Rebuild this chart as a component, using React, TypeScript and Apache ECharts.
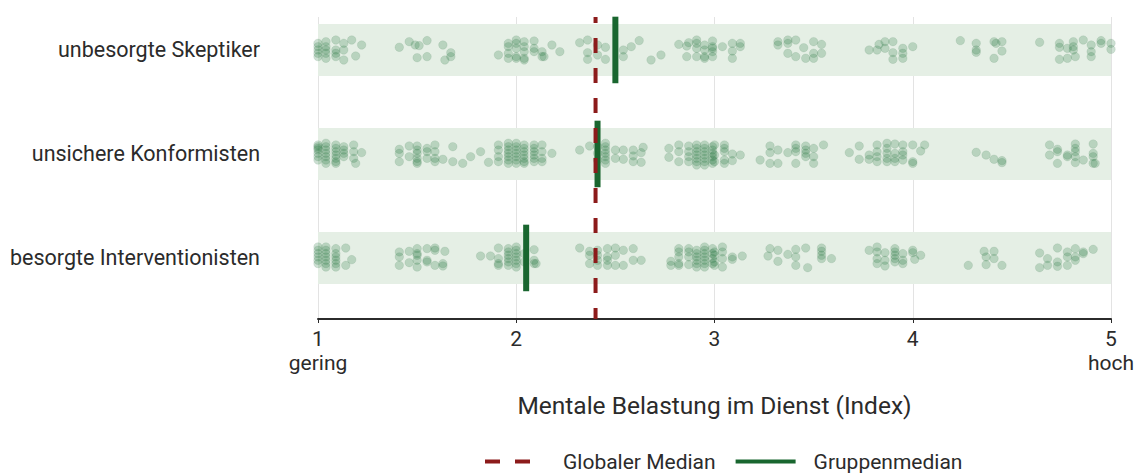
import React, { useEffect, useRef } from "react";
import * as echarts from "echarts";

const categories = ["unbesorgte Skeptiker", "unsichere Konformisten", "besorgte Interventionisten"];
const xTickExtra: Record<number, string> = { 1: "gering", 5: "hoch" };
const globalMedian = 2.4;
const groupMedians = [2.5, 2.41, 2.05];

// [value, vertical jitter] per respondent
const skeptiker: number[][] = [
  [1.0,-0.064],[1.0,-0.032],[1.0,0],[1.0,0.032],[1.0,0.064],
  [1.04,-0.08],[1.04,-0.032],[1.04,0],[1.04,0.032],[1.04,0.08],
  [1.09,-0.096],[1.09,0],[1.09,0.032],[1.09,0.064],
  [1.13,-0.064],[1.13,0],[1.13,0.096],[1.17,-0.096],[1.19,0.058],[1.22,-0.048],
  [1.41,-0.026],[1.46,-0.08],[1.49,-0.048],[1.51,-0.042],[1.55,-0.09],[1.55,0.064],[1.5,0.074],[1.63,-0.048],[1.64,0.096],[1.67,0.064],[1.67,0.026],
  [1.91,0.048],[1.96,-0.064],[1.96,-0.032],[1.96,0.032],[1.96,0.08],[2.0,-0.096],[2.0,-0.064],[2.0,-0.016],[2.0,0.064],[2.0,0.08],
  [2.04,-0.08],[2.04,-0.032],[2.04,0.016],[2.04,0.08],[2.04,0.096],[2.09,-0.087],[2.09,-0.016],[2.09,0.016],[2.13,0.016],[2.13,0.064],[2.14,0.064],[2.18,-0.048],[2.22,0.016],
  [2.32,-0.07],[2.36,-0.096],[2.36,0.026],[2.36,0.09],[2.41,-0.048],[2.41,0.048],[2.45,-0.026],[2.45,0.09],[2.54,0],[2.54,0.064],[2.58,-0.032],[2.62,-0.09],[2.68,0.096],[2.73,0.048],
  [2.82,-0.054],[2.86,-0.038],[2.86,0.064],[2.87,-0.07],[2.91,-0.096],[2.91,-0.064],[2.91,-0.016],[2.91,0.064],[2.95,-0.048],[2.95,0],[2.95,0.064],[2.95,0.08],
  [2.99,-0.016],[2.99,0.016],[2.99,0.064],[2.99,-0.087],[2.99,-0.032],[3.04,-0.032],[3.09,-0.064],[3.09,0.01],[3.09,0.08],[3.13,-0.064],[3.13,-0.032],
  [3.32,-0.08],[3.32,-0.048],[3.37,-0.096],[3.37,-0.064],[3.37,0.032],[3.41,-0.096],[3.41,0.064],[3.45,-0.022],[3.46,0.08],[3.5,-0.08],[3.5,0.032],[3.5,0.08],[3.54,-0.054],[3.54,0.032],
  [3.78,0],[3.82,0],[3.83,-0.054],[3.86,-0.08],[3.86,-0.016],[3.9,-0.08],[3.9,0.026],[3.9,0.09],[3.95,-0.016],[3.95,0.032],[3.95,0.08],[4.0,-0.032],
  [4.24,-0.09],[4.32,-0.064],[4.32,0],[4.32,0.022],[4.41,-0.08],[4.41,0.08],[4.42,-0.064],[4.45,-0.08],[4.45,0.01],
  [4.64,-0.074],[4.74,-0.064],[4.74,-0.026],[4.74,0.09],[4.78,-0.016],[4.78,0.08],[4.81,-0.08],[4.81,-0.032],[4.81,0],[4.82,0.064],[4.86,-0.096],
  [4.9,-0.048],[4.9,0.016],[4.9,0.064],[4.95,-0.09],[4.95,-0.064],[5.0,-0.064],[5.0,-0.006]
];

const konformisten: number[][] = [
  [1.0,-0.07],[1.0,-0.038],[1.0,-0.006],[1.0,0.026],[1.0,0.058],[1.0,-0.087],[1.0,-0.054],
  [1.04,-0.103],[1.04,-0.07],[1.04,-0.038],[1.04,-0.006],[1.04,0.026],[1.04,0.058],[1.04,0.09],
  [1.09,-0.087],[1.09,-0.054],[1.09,-0.022],[1.09,0.01],[1.09,0.042],[1.09,0.074],[1.09,0.09],
  [1.13,-0.07],[1.13,-0.038],[1.13,-0.006],[1.13,0.026],[1.18,-0.087],[1.18,-0.022],[1.18,0.042],[1.19,0.09],[1.22,-0.013],
  [1.41,-0.045],[1.41,-0.006],[1.41,0.074],[1.46,-0.077],[1.46,0.026],
  [1.5,-0.077],[1.5,-0.038],[1.5,-0.006],[1.5,0.042],[1.5,0.074],[1.5,0.09],
  [1.55,-0.054],[1.55,-0.022],[1.55,0.042],[1.59,-0.087],[1.59,-0.022],[1.59,0.042],[1.59,0.074],
  [1.63,0.051],[1.68,-0.07],[1.68,0.074],[1.73,0.09],[1.77,0.026],[1.82,-0.022],[1.86,0.08],
  [1.91,-0.087],[1.91,-0.038],[1.91,0.026],[1.91,0.074],
  [1.96,-0.103],[1.96,-0.07],[1.96,-0.038],[1.96,-0.006],[1.96,0.026],[1.96,0.058],[1.96,0.09],
  [2.0,-0.103],[2.0,-0.07],[2.0,-0.038],[2.0,-0.006],[2.0,0.026],[2.0,0.058],[2.0,0.09],
  [2.04,-0.087],[2.04,-0.054],[2.04,-0.022],[2.04,0.01],[2.04,0.042],[2.04,0.074],[2.04,0.09],
  [2.09,-0.087],[2.09,-0.054],[2.09,-0.022],[2.09,0.01],[2.09,0.042],[2.09,0.074],
  [2.13,-0.087],[2.13,-0.022],[2.13,0.042],[2.13,0.074],[2.18,-0.006],
  [2.32,-0.038],[2.37,-0.077],[2.41,-0.07],[2.41,-0.006],[2.41,0.058],
  [2.45,-0.103],[2.45,-0.07],[2.45,-0.038],[2.45,-0.006],[2.45,0.026],[2.45,0.058],[2.45,0.09],
  [2.5,-0.038],[2.5,0.042],[2.54,-0.038],[2.54,0.051],[2.59,-0.038],[2.59,0.019],[2.59,0.074],[2.63,-0.013],[2.63,0.08],[2.64,-0.064],
  [2.77,-0.054],[2.77,0.032],[2.82,-0.087],[2.82,-0.022],[2.82,0.074],
  [2.87,-0.077],[2.87,-0.022],[2.87,0.026],[2.87,0.074],
  [2.91,-0.087],[2.91,-0.054],[2.91,-0.022],[2.91,0.01],[2.91,0.042],[2.91,0.074],[2.91,0.106],
  [2.95,-0.087],[2.95,-0.054],[2.95,-0.022],[2.95,0.01],[2.95,0.042],[2.95,0.074],[2.95,0.106],
  [2.99,-0.07],[2.99,-0.038],[2.99,-0.006],[2.99,0.026],[2.99,0.058],[2.99,0.09],
  [3.0,-0.087],[3.0,0.01],[3.0,0.074],
  [3.05,-0.087],[3.05,-0.054],[3.05,-0.022],[3.05,0.058],[3.05,0.09],[3.09,0],[3.09,0.064],[3.13,0.01],
  [3.23,0.058],[3.28,-0.077],[3.28,-0.013],[3.28,0.09],[3.32,-0.038],[3.32,0.09],[3.37,-0.013],
  [3.41,-0.087],[3.41,-0.054],[3.41,-0.022],[3.41,0.09],[3.46,-0.077],[3.46,-0.038],[3.46,-0.006],[3.46,0.026],
  [3.5,-0.054],[3.5,0.026],[3.5,0.09],[3.55,-0.087],
  [3.68,-0.013],[3.73,-0.077],[3.73,0.051],[3.78,0.01],[3.78,0.051],
  [3.82,-0.087],[3.82,-0.022],[3.82,0.026],[3.82,0.074],
  [3.87,-0.103],[3.87,-0.054],[3.87,-0.006],[3.87,0.042],[3.87,0.074],
  [3.91,-0.096],[3.91,-0.006],[3.91,0.042],[3.91,0.074],
  [3.95,-0.087],[3.95,-0.022],[3.95,0.01],[3.95,0.058],
  [4.0,-0.087],[4.0,0.074],[4.0,0.09],[4.04,-0.029],[4.06,-0.087],
  [4.32,-0.016],[4.37,0.01],[4.41,0.051],[4.45,0.064],[4.45,0.083],
  [4.69,-0.087],[4.69,0.01],[4.73,-0.045],[4.73,-0.022],[4.73,0.09],[4.78,0.01],[4.78,0.026],
  [4.82,-0.096],[4.82,-0.054],[4.82,-0.022],[4.82,0.026],[4.82,0.083],[4.86,0.058],
  [4.91,-0.096],[4.91,-0.006],[4.91,0.026],[4.91,0.09],[4.92,0.09]
];

const interventionisten: number[][] = [
  [1.0,-0.106],[1.0,-0.074],[1.0,-0.042],[1.0,-0.01],[1.0,0.022],[1.0,0.054],
  [1.04,-0.106],[1.04,-0.074],[1.04,-0.042],[1.04,-0.01],[1.04,0.022],[1.04,0.054],[1.04,0.087],
  [1.09,-0.09],[1.09,-0.042],[1.09,-0.01],[1.09,0.022],[1.09,0.054],[1.09,0.087],
  [1.14,-0.096],[1.14,0.071],[1.17,0.016],
  [1.41,-0.058],[1.41,-0.01],[1.41,0.071],[1.46,-0.064],[1.46,0.045],
  [1.5,-0.09],[1.5,-0.042],[1.5,-0.026],[1.5,0.022],[1.5,0.087],
  [1.55,-0.09],[1.55,0.022],[1.55,0.038],[1.59,-0.096],[1.59,-0.074],[1.59,0.071],
  [1.63,0.054],[1.63,0.077],[1.64,-0.064],
  [1.82,-0.019],[1.87,-0.019],[1.91,-0.096],[1.91,0.006],[1.91,0.054],[1.91,0.071],
  [1.96,-0.09],[1.96,-0.058],[1.96,-0.026],[1.96,0.006],[1.96,0.038],[1.96,0.071],
  [2.0,-0.106],[2.0,-0.074],[2.0,-0.042],[2.0,-0.01],[2.0,0.022],[2.0,0.054],[2.0,0.087],
  [2.04,-0.042],[2.04,0.038],[2.09,-0.08],[2.09,0.022],[2.09,0.054],[2.1,0.054],
  [2.32,-0.096],[2.37,-0.064],[2.37,-0.026],[2.37,0.054],
  [2.41,-0.074],[2.41,-0.026],[2.41,0.022],[2.41,0.071],
  [2.46,-0.09],[2.46,-0.01],[2.46,0.022],[2.46,0.071],
  [2.5,-0.096],[2.5,-0.026],[2.5,0.071],[2.54,-0.074],[2.54,0.071],[2.59,-0.09],[2.59,0.022],[2.63,0.022],
  [2.78,0.032],[2.78,0.071],[2.82,-0.09],[2.82,-0.058],[2.82,-0.01],[2.82,0.054],[2.82,0.071],
  [2.87,-0.09],[2.87,-0.058],[2.87,-0.01],[2.87,0.064],
  [2.91,-0.074],[2.91,-0.042],[2.91,-0.01],[2.91,0.022],[2.91,0.054],[2.91,0.087],
  [2.95,-0.106],[2.95,-0.074],[2.95,-0.042],[2.95,-0.01],[2.95,0.022],[2.95,0.054],[2.95,0.087],
  [2.99,-0.09],[2.99,-0.042],[2.99,0.006],[2.99,0.054],
  [3.0,-0.058],[3.0,-0.026],[3.0,0.038],[3.0,0.071],
  [3.04,-0.106],[3.04,-0.058],[3.04,0.006],[3.04,0.087],[3.09,-0.01],[3.09,0.013],[3.14,-0.019],
  [3.28,-0.09],[3.27,-0.019],[3.32,-0.074],[3.32,0.032],[3.37,-0.035],
  [3.41,-0.083],[3.41,-0.01],[3.41,0.071],[3.46,-0.096],[3.47,0.093],
  [3.54,-0.096],[3.54,-0.064],[3.54,-0.026],[3.54,0.006],[3.59,0.006],
  [3.78,-0.074],[3.82,-0.106],[3.82,-0.058],[3.82,0.006],[3.82,0.054],
  [3.86,-0.051],[3.86,0.022],[3.86,0.077],
  [3.91,-0.09],[3.91,-0.058],[3.91,-0.026],[3.91,0.006],[3.91,0.038],
  [3.95,-0.042],[3.95,0.022],[3.95,0.054],[4.0,-0.074],[4.0,-0.051],[4.01,0.013],[4.04,-0.026],
  [4.28,0.071],[4.36,-0.064],[4.37,-0.01],[4.37,0.064],[4.41,-0.064],[4.41,0.006],[4.45,0.071],
  [4.64,-0.048],[4.64,0.093],[4.68,0.006],[4.68,0.071],[4.73,-0.096],[4.73,0.038],[4.73,0.08],
  [4.78,-0.058],[4.78,-0.01],[4.78,0.071],[4.82,-0.09],[4.82,-0.01],[4.82,0.022],
  [4.86,-0.058],[4.86,-0.042],[4.91,-0.083]
];

const groups = [skeptiker, konformisten, interventionisten];

const Y_MIN = 0.683;
const Y_MAX = 3.587;
const GREEN = "#19662f";
const POINT = "#1d7036";
const RED = "#8c1b1b";
const FONT = "Roboto";

export default function App() {
  const ref = useRef<HTMLDivElement>(null);

  useEffect(() => {
    document.body.style.margin = "0";
    if (!ref.current) return;
    const chart = echarts.init(ref.current, null, { renderer: "svg" });

    const bandSeries = {
      type: "line",
      name: "bands",
      data: [],
      z: 1,
      silent: true,
      markArea: {
        silent: true,
        itemStyle: { color: "#e5efe5" },
        data: categories.map((_, i) => [
          { xAxis: 1, yAxis: i + 1 - 0.25 },
          { xAxis: 5, yAxis: i + 1 + 0.25 },
        ]),
      },
    };

    const pointSeries = groups.map((pts, i) => ({
      type: "scatter",
      name: categories[i],
      symbol: "circle",
      symbolSize: 8.5,
      z: 2,
      itemStyle: { color: POINT, opacity: 0.22, borderColor: "#0f5524", borderWidth: 0.4 },
      data: pts.map(([x, dy]) => [x, i + 1 + dy]),
    }));

    const medianSeries = groupMedians.map((m, i) => ({
      type: "line",
      name: "Gruppenmedian",
      symbol: "none",
      z: 3,
      lineStyle: { color: GREEN, width: 6, cap: "butt" },
      itemStyle: { color: GREEN },
      data: [
        [m, i + 1 - 0.32],
        [m, i + 1 + 0.32],
      ],
    }));

    const globalSeries = {
      type: "line",
      name: "Globaler Median",
      symbol: "none",
      z: 4,
      lineStyle: { color: RED, width: 4, type: [15, 15], dashOffset: 9, cap: "butt" },
      itemStyle: { color: RED },
      data: [
        [globalMedian, Y_MIN],
        [globalMedian, Y_MAX],
      ],
    };

    chart.setOption({
      animation: false,
      grid: { left: 318, right: 29, top: 17, bottom: 154, containLabel: false },
      xAxis: {
        type: "value",
        min: 1,
        max: 5,
        interval: 1,
        name: "Mentale Belastung im Dienst (Index)",
        nameLocation: "middle",
        nameGap: 74,
        nameTextStyle: { fontFamily: FONT, fontSize: 24.5, color: "#2b2b2b" },
        axisLine: { lineStyle: { color: "#2b2b2b", width: 2 } },
        axisTick: { show: true, length: 4, lineStyle: { color: "#2b2b2b", width: 1 } },
        splitLine: { show: true, lineStyle: { color: "#e3e3e3", width: 1 } },
        axisLabel: {
          fontFamily: FONT,
          fontSize: 21,
          color: "#2b2b2b",
          margin: 8,
          lineHeight: 24,
          formatter: (v: number) => (xTickExtra[v] ? `${v}\n${xTickExtra[v]}` : `${v}`),
        },
      },
      yAxis: {
        type: "value",
        min: Y_MIN,
        max: Y_MAX,
        inverse: true,
        axisLine: { show: false },
        axisTick: { show: false },
        splitLine: { show: false },
        axisLabel: {
          customValues: [1, 2, 3],
          fontFamily: FONT,
          fontSize: 21.5,
          color: "#2b2b2b",
          margin: 58,
          formatter: (v: number) => categories[Math.round(v) - 1] ?? "",
        },
      },
      legend: {
        data: ["Globaler Median", "Gruppenmedian"],
        left: 478,
        top: 446,
        itemWidth: 60,
        itemHeight: 16,
        itemGap: 18,
        lineStyle: { width: 4, dashOffset: 0 },
        itemStyle: { opacity: 0 },
        textStyle: { fontFamily: FONT, fontSize: 21, color: "#2b2b2b", padding: [0, 0, 0, 13] },
        selectedMode: false,
      },
      series: [bandSeries, ...pointSeries, ...medianSeries, globalSeries],
    });

    return () => chart.dispose();
  }, []);

  return <div ref={ref} style={{ width: 1140, height: 473 }} />;
}
